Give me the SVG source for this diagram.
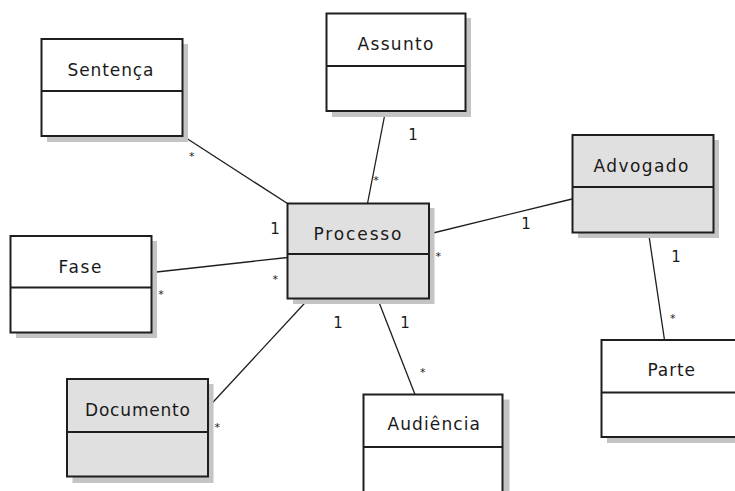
<svg xmlns="http://www.w3.org/2000/svg" width="735" height="491" viewBox="0 0 735 491">
  <style>
    .shadow { fill: #c4c4c4; }
    .box { stroke: #1e1e1e; stroke-width: 2; }
    .plain { fill: #ffffff; }
    .grey { fill: #e0e0e0; }
    .div { stroke: #1e1e1e; stroke-width: 2; }
    .name { font-family: "DejaVu Sans", "Liberation Sans", sans-serif; font-size: 17px; fill: #1a1a1a; }
    .edge { stroke: #1e1e1e; stroke-width: 1.3; fill: none; }
    .mult { font-family: "DejaVu Sans", "Liberation Sans", sans-serif; font-size: 15px; fill: #1a1a1a; text-anchor: middle; }
    .star { font-family: "DejaVu Sans", "Liberation Sans", sans-serif; font-size: 11px; fill: #1a1a1a; text-anchor: middle; }
  </style>
  <rect width="735" height="491" fill="#ffffff"/>

  <!-- associations -->
  <g id="connectors">
    <line class="edge" x1="183" y1="136" x2="287.5" y2="203.5"/>
    <line class="edge" x1="385.5" y1="111" x2="367.5" y2="203.5"/>
    <line class="edge" x1="572" y1="199" x2="429" y2="234"/>
    <line class="edge" x1="648.5" y1="232.5" x2="664.5" y2="340"/>
    <line class="edge" x1="152" y1="272.5" x2="287.5" y2="257.5"/>
    <line class="edge" x1="209" y1="406.5" x2="309" y2="298.5"/>
    <line class="edge" x1="377.5" y1="298.5" x2="415" y2="394.5"/>

    <!-- multiplicities -->
    <text class="mult" x="275" y="234">1</text>
    <text class="mult" x="413" y="140">1</text>
    <text class="mult" x="526" y="229">1</text>
    <text class="mult" x="676" y="262">1</text>
    <text class="mult" x="338" y="328">1</text>
    <text class="mult" x="405" y="328">1</text>

    <text class="star" x="191.7" y="160">*</text>
    <text class="star" x="376" y="184">*</text>
    <text class="star" x="438.3" y="259.5">*</text>
    <text class="star" x="672.7" y="322">*</text>
    <text class="star" x="161" y="297.5">*</text>
    <text class="star" x="275.3" y="283">*</text>
    <text class="star" x="217.3" y="431">*</text>
    <text class="star" x="422.7" y="376">*</text>
  </g>

  <g id="sentenca">
    <rect class="shadow" x="47" y="44" width="141" height="98"/>
    <rect class="box plain" x="41.5" y="39" width="141" height="97"/>
    <line class="div" x1="41.5" y1="91" x2="182.5" y2="91"/>
    <text class="name" x="67.5" y="75.5" textLength="86" lengthAdjust="spacing">Sentença</text>
  </g>

  <g id="assunto">
    <rect class="shadow" x="332" y="18" width="139" height="99"/>
    <rect class="box plain" x="326.5" y="13.5" width="139" height="97.5"/>
    <line class="div" x1="326.5" y1="66" x2="465.5" y2="66"/>
    <text class="name" x="357.5" y="50" textLength="76" lengthAdjust="spacing">Assunto</text>
  </g>

  <g id="advogado">
    <rect class="shadow" x="578" y="140" width="141" height="98"/>
    <rect class="box grey" x="572.5" y="135" width="141" height="97.5"/>
    <line class="div" x1="572.5" y1="187" x2="713.5" y2="187"/>
    <text class="name" x="593.5" y="171.5" textLength="95" lengthAdjust="spacing">Advogado</text>
  </g>

  <g id="fase">
    <rect class="shadow" x="16" y="241" width="141" height="97"/>
    <rect class="box plain" x="10.5" y="236" width="141" height="96.5"/>
    <line class="div" x1="10.5" y1="287.5" x2="151.5" y2="287.5"/>
    <text class="name" x="58.5" y="272.5" textLength="43" lengthAdjust="spacing">Fase</text>
  </g>

  <g id="processo">
    <rect class="shadow" x="293" y="208" width="141.5" height="96"/>
    <rect class="box grey" x="287.5" y="203.5" width="141.5" height="95"/>
    <line class="div" x1="287.5" y1="254" x2="429" y2="254"/>
    <text class="name" x="313.5" y="240" textLength="88" lengthAdjust="spacing">Processo</text>
  </g>

  <g id="documento">
    <rect class="shadow" x="72.5" y="384" width="141" height="99"/>
    <rect class="box grey" x="67" y="379" width="141" height="97.5"/>
    <line class="div" x1="67" y1="432" x2="208" y2="432"/>
    <text class="name" x="85" y="415.5" textLength="105" lengthAdjust="spacing">Documento</text>
  </g>

  <g id="audiencia">
    <rect class="shadow" x="369" y="399.5" width="140.5" height="110"/>
    <rect class="box plain" x="363.5" y="394.5" width="139" height="110"/>
    <line class="div" x1="363.5" y1="447" x2="502.5" y2="447"/>
    <text class="name" x="387.5" y="430" textLength="92.5" lengthAdjust="spacing">Audiência</text>
  </g>

  <g id="parte">
    <rect class="shadow" x="607" y="345" width="140" height="98"/>
    <rect class="box plain" x="601.5" y="340" width="140" height="97"/>
    <line class="div" x1="601.5" y1="392.5" x2="741.5" y2="392.5"/>
    <text class="name" x="647.5" y="376" textLength="47.5" lengthAdjust="spacing">Parte</text>
  </g>
</svg>
